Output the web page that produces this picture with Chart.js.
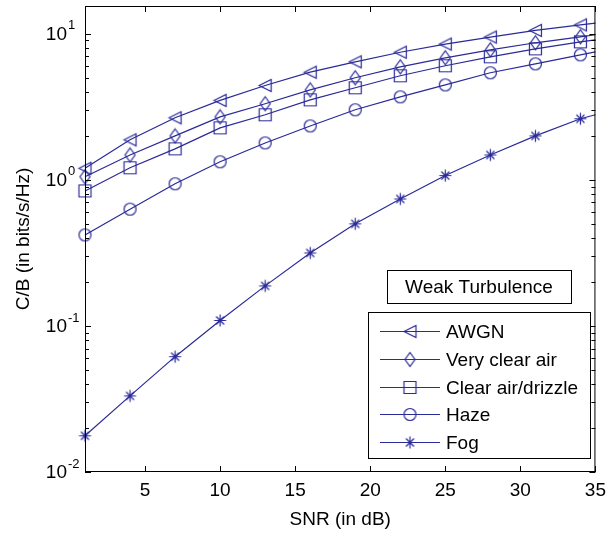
<!DOCTYPE html>
<html>
<head>
<meta charset="utf-8">
<script src="https://cdn.jsdelivr.net/npm/chart.js@4/dist/chart.umd.min.js"></script>
<style>
  html, body { margin: 0; padding: 0; background: #fff; }
  #wrap { width: 613px; height: 534px; }
</style>
</head>
<body>
<div id="wrap"><canvas id="chart" width="613" height="534"></canvas></div>
<script>
// SNR points (last point has no marker, line just runs to the edge)
const snr = [1, 4, 7, 10, 13, 16, 19, 22, 25, 28, 31, 34, 35];

// C/B values
const awgn      = [1.2, 1.88, 2.66, 3.5, 4.43, 5.46, 6.43, 7.48, 8.5, 9.5, 10.55, 11.5, 11.85];
const veryClear = [1.05, 1.48, 2.0, 2.7, 3.32, 4.13, 5.0, 5.94, 6.85, 7.77, 8.68, 9.54, 9.85];
const clearAir  = [0.84, 1.21, 1.63, 2.27, 2.79, 3.53, 4.27, 5.16, 6.04, 6.96, 7.89, 8.81, 9.1];
const haze      = [0.42, 0.63, 0.94, 1.33, 1.79, 2.34, 3.02, 3.70, 4.47, 5.41, 6.23, 7.18, 7.53];
const fog       = [0.0177, 0.0332, 0.0616, 0.109, 0.188, 0.316, 0.5, 0.74, 1.07, 1.48, 2.0, 2.62, 2.79];

const labels = ['AWGN', 'Very clear air', 'Clear air/drizzle', 'Haze', 'Fog'];
const xTicks = [5, 10, 15, 20, 25, 30, 35];
const yDecades = [-2, -1, 0, 1];

const lineColor = '#2a2a98';
const FONT = 'Arial, "Liberation Sans", Helvetica, sans-serif';

// marker images drawn like matlab markers
function makeMarker(draw) {
    const c = document.createElement('canvas');
    c.width = 17; c.height = 17;
    const g = c.getContext('2d');
    g.strokeStyle = lineColor;
    g.lineWidth = 1.2;
    g.beginPath();
    draw(g);
    g.stroke();
    return c;
}
const markers = [
    makeMarker(g => { g.moveTo(2.5, 8.5); g.lineTo(14.5, 2.5); g.lineTo(14.5, 14.5); g.closePath(); }),
    makeMarker(g => { g.moveTo(8.5, 1.5); g.lineTo(13.5, 8.5); g.lineTo(8.5, 15.5); g.lineTo(3.5, 8.5); g.closePath(); }),
    makeMarker(g => { g.rect(2.5, 2.5, 12, 12); }),
    makeMarker(g => { g.arc(8.5, 8.5, 6, 0, Math.PI * 2); }),
    makeMarker(g => {
        g.moveTo(8.5, 2.5); g.lineTo(8.5, 14.5);
        g.moveTo(2.5, 8.5); g.lineTo(14.5, 8.5);
        g.moveTo(4.5, 4.5); g.lineTo(12.5, 12.5);
        g.moveTo(12.5, 4.5); g.lineTo(4.5, 12.5);
    })
];

const series = [awgn, veryClear, clearAir, haze, fog];
const datasets = series.map((vals, k) => ({
    label: labels[k],
    data: snr.map((x, i) => ({ x: x, y: vals[i] })),
    borderColor: lineColor,
    borderWidth: 1.2,
    pointStyle: markers[k],
    pointRadius: snr.map((x, i) => i === snr.length - 1 ? 0 : 6),
    pointBorderColor: lineColor,
    fill: false,
    tension: 0,
    clip: false
}));

// frame, inward ticks, y labels with exponents, legend boxes
const matlabAxes = {
    id: 'matlabAxes',
    afterDraw(chart) {
        const ctx = chart.ctx;
        const a = chart.chartArea;
        const xs = chart.scales.x, ys = chart.scales.y;
        ctx.save();
        ctx.strokeStyle = '#000';
        ctx.lineWidth = 1;
        ctx.strokeRect(a.left + 0.5, a.top + 0.5, a.right - a.left - 1, a.bottom - a.top - 1);

        ctx.beginPath();
        xTicks.forEach(v => {
            const px = Math.round(xs.getPixelForValue(v)) + 0.5;
            ctx.moveTo(px, a.bottom); ctx.lineTo(px, a.bottom - 6);
            ctx.moveTo(px, a.top); ctx.lineTo(px, a.top + 6);
        });
        yDecades.forEach(k => {
            for (let m = 1; m <= 9; m++) {
                const v = m * Math.pow(10, k);
                if (v > ys.max) break;
                const py = Math.round(ys.getPixelForValue(v)) + 0.5;
                const len = m === 1 ? 6 : 4;
                ctx.moveTo(a.left, py); ctx.lineTo(a.left + len, py);
                ctx.moveTo(a.right, py); ctx.lineTo(a.right - len, py);
            }
        });
        ctx.stroke();

        // y tick labels 10^k
        ctx.fillStyle = '#000';
        ctx.textBaseline = 'middle';
        yDecades.forEach(k => {
            const py = ys.getPixelForValue(Math.pow(10, k));
            ctx.font = '19px ' + FONT;
            ctx.textAlign = 'right';
            ctx.fillText('10', 67, py + 1);
            ctx.font = '13px ' + FONT;
            ctx.textAlign = 'left';
            ctx.fillText(String(k), 68, py - 8);
        });

        // legend title box
        ctx.fillStyle = '#fff';
        ctx.fillRect(387, 270, 184, 33);
        ctx.strokeRect(387.5, 270.5, 184, 33);
        ctx.fillStyle = '#000';
        ctx.font = '19px ' + FONT;
        ctx.textAlign = 'center';
        ctx.fillText('Weak Turbulence', 479, 288);

        // legend entries box
        ctx.fillStyle = '#fff';
        ctx.fillRect(368, 312, 222, 146);
        ctx.strokeRect(368.5, 312.5, 222, 146);
        ctx.textAlign = 'left';
        labels.forEach((lab, k) => {
            const y = Math.round(331 + k * 27.75) + 0.5;
            ctx.strokeStyle = lineColor;
            ctx.lineWidth = 1.2;
            ctx.beginPath();
            ctx.moveTo(380, y); ctx.lineTo(440, y);
            ctx.stroke();
            ctx.drawImage(markers[k], 410 - 8.5, y - 8.5);
            ctx.fillStyle = '#000';
            ctx.fillText(lab, 446, y + 1);
        });
        ctx.restore();
    }
};

Chart.defaults.font.family = FONT;
Chart.defaults.color = '#000';

new Chart(document.getElementById('chart'), {
    type: 'line',
    data: { datasets: datasets },
    options: {
        responsive: false,
        animation: false,
        events: [],
        layout: { autoPadding: false, padding: { top: 6, right: 8, left: 0, bottom: 0 } },
        plugins: { legend: { display: false }, tooltip: { enabled: false } },
        scales: {
            x: {
                type: 'linear',
                min: 1, max: 35,
                grid: { display: false, drawTicks: false },
                border: { display: false },
                afterBuildTicks: s => { s.ticks = xTicks.map(v => ({ value: v })); },
                afterFit: s => { s.height = 62; },
                ticks: { font: { size: 19 }, padding: 7, maxRotation: 0, autoSkip: false },
                title: { display: true, text: 'SNR (in dB)', font: { size: 19 }, padding: { top: 0, bottom: 3 } }
            },
            y: {
                type: 'logarithmic',
                min: 0.01, max: 15.5,
                grid: { display: false, drawTicks: false },
                border: { display: false },
                afterFit: s => { s.width = 85; },
                ticks: { display: false },
                title: { display: true, text: 'C/B (in bits/s/Hz)', font: { size: 19 }, padding: { top: 12, bottom: 0 } }
            }
        }
    },
    plugins: [matlabAxes]
});
</script>
</body>
</html>
